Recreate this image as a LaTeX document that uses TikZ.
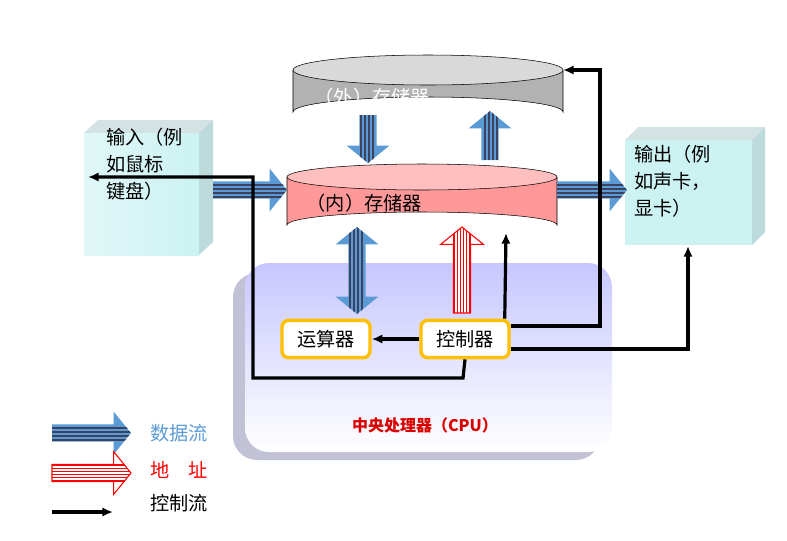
\documentclass[tikz,border=0pt]{standalone}
\usepackage{fontspec}
\setmainfont{Noto Sans CJK SC}
\usetikzlibrary{shapes.geometric,positioning,calc,arrows.meta}
\definecolor{datablue}{HTML}{5B9BD5}
\definecolor{stripe}{HTML}{3A4260}
\definecolor{boxcyan}{HTML}{CCF2F2}
\definecolor{unityellow}{HTML}{FFC000}

% fat striped arrow: #1 = data/addr, #2 = 1 or 2 heads, #3 from, #4 to
\newcommand\fatarrow[4]{%
  \path let \p1=(#3), \p2=(#4), \n1={atan2(\y2-\y1,\x2-\x1)},
    \n2={veclen(\x2-\x1,\y2-\y1)} in \pgfextra{\xdef\faang{\n1}\xdef\falen{\n2}};
  \begin{scope}[shift={(#3)}, rotate=\faang]
    \ifnum#2=1
      \path[save path=\faoutline] (0,-6.5pt) -- (\falen-13pt,-6.5pt) -- (\falen-13pt,-16pt)
        -- (\falen,0pt) -- (\falen-13pt,16pt) -- (\falen-13pt,6.5pt) -- (0,6.5pt) -- cycle;
    \else
      \path[save path=\faoutline] (0,0) -- (13pt,-16pt) -- (13pt,-6.5pt) -- (\falen-13pt,-6.5pt)
        -- (\falen-13pt,-16pt) -- (\falen,0pt) -- (\falen-13pt,16pt) -- (\falen-13pt,6.5pt)
        -- (13pt,6.5pt) -- (13pt,16pt) -- cycle;
    \fi
    \ifx#1d
      \fill[datablue, use path=\faoutline];
      \begin{scope}
        \clip[use path=\faoutline];
        \foreach \s in {-5.25,-2.25,...,6} \draw[stripe, line width=1.2pt] (0,\s pt) -- (\falen,\s pt);
      \end{scope}
    \else
      \fill[white, use path=\faoutline];
      \begin{scope}
        \clip[use path=\faoutline];
        \foreach \s in {-6,-3.6,...,6.5} \draw[red, line width=1pt] (0,\s pt) -- (\falen,\s pt);
      \end{scope}
      \draw[red, line width=0.8pt, use path=\faoutline];
    \fi
  \end{scope}}

\begin{document}
\begin{tikzpicture}[x=0.75pt, y=-0.75pt,
  ctrl/.style={-{Latex[length=8pt,width=7pt]}, line width=2.4pt, black},
  unit/.style={draw=unityellow, line width=2.6pt, rounded corners=5pt, fill=white,
    minimum width=66pt, minimum height=28pt, font=\Large},
  label/.style={font=\Large, align=left, inner sep=0pt}]
\useasboundingbox (0,0) rectangle (787,540);

% boxes for input and output
\fill[boxcyan!70!gray!60] (84,133) -- (98,120) -- (213,120) -- (199,133) -- cycle;
\fill[boxcyan!80!gray] (199,133) -- (213,120) -- (213,242) -- (199,255) -- cycle;
\fill[boxcyan, path picture={\shade[left color=boxcyan!60!white, right color=boxcyan]
  (path picture bounding box.south west) rectangle (path picture bounding box.north east);}]
  (84,133) rectangle (199,255);
\node[label, anchor=north west] (in) at (106,128) {输入（例\\[2pt]如鼠标\\[2pt]键盘）};
\coordinate (inbox) at (88,177);

\fill[boxcyan!70!gray!60] (625,140) -- (638,127) -- (765,127) -- (752,140) -- cycle;
\fill[boxcyan!80!gray] (752,140) -- (765,127) -- (765,232) -- (752,245) -- cycle;
\fill[boxcyan] (625,140) rectangle (752,245);
\node[label, anchor=north west] (out) at (634,145) {输出（例\\[2pt]如声卡，\\[2pt]显卡）};
\coordinate (outbox) at (688,246);

% CPU
\fill[blue!20!gray!40, rounded corners=18pt] (233,273) rectangle (600,460);
\shade[top color=blue!22, bottom color=white, rounded corners=18pt] (245,263) rectangle (612,452);
\node[red!85!black, font=\large\bfseries] (cpu) at (425,425) {中央处理器（CPU）};

% memories
\draw[fill=gray!60] (293,70) -- (293,112) arc[start angle=180, end angle=360, x radius=135, y radius=15]
  -- (563,70);
\draw[fill=gray!30] (428,70) ellipse[x radius=135, y radius=15];
\node[font=\Large, text=white, anchor=west] (ext) at (310,97) {（外）存储器};
\coordinate (extE) at (563,70);
\draw[fill=red!40] (287,177) -- (287,225) arc[start angle=180, end angle=360, x radius=135, y radius=13]
  -- (557,177);
\draw[fill=red!25] (422,177) ellipse[x radius=135, y radius=13];
\node[font=\Large, anchor=west] (int) at (302,203) {（内）存储器};
\coordinate (intB) at (506,233);

% units
\node[unit] (alu) at (326,339) {运算器};
\node[unit] (cu) at (465,339) {控制器};

% data and address flows
\coordinate (a1) at (368,115); \coordinate (a2) at (368,163);
\coordinate (b1) at (490,160); \coordinate (b2) at (490,111);
\coordinate (c1) at (213,190); \coordinate (c2) at (287,190);
\coordinate (d1) at (557,190); \coordinate (d2) at (627,190);
\coordinate (e1) at (357,227); \coordinate (e2) at (357,314);
\coordinate (f1) at (462,313); \coordinate (f2) at (462,227);
\fatarrow{d}{1}{a1}{a2}
\fatarrow{d}{1}{b1}{b2}
\fatarrow{d}{1}{c1}{c2}
\fatarrow{d}{1}{d1}{d2}
\fatarrow{d}{2}{e1}{e2}
\fatarrow{a}{1}{f1}{f2}

% control flows
\draw[ctrl] (cu.west) -- (alu.east);
\draw[ctrl] (cu.north east |- cu.north) ++(-6,0) -- (intB);
\draw[ctrl] (cu.east) ++(0,-13) -- (600,326) -- (600,70) -- (extE);
\draw[ctrl] (cu.east) ++(0,10) -- (688,349) -- (outbox);
\draw[ctrl] (cu.south) -- (463,378) -- (253,378) -- (253,177) -- (inbox);

% legend
\coordinate (l1) at (52,433); \coordinate (l2) at (131,433);
\coordinate (m1) at (52,473); \coordinate (m2) at (131,473);
\fatarrow{d}{1}{l1}{l2}
\fatarrow{a}{1}{m1}{m2}
\coordinate (n1) at (52,512); \coordinate (n2) at (113,512);
\draw[ctrl] (n1) -- (n2);
\node[label, anchor=west, text=datablue] (ldata) at (150,433) {数据流};
\node[label, anchor=west, text=red] (laddr) at (150,470) {地\hspace{1em}址};
\node[label, anchor=west] (lctrl) at (150,503) {控制流};
\end{tikzpicture}
\end{document}
